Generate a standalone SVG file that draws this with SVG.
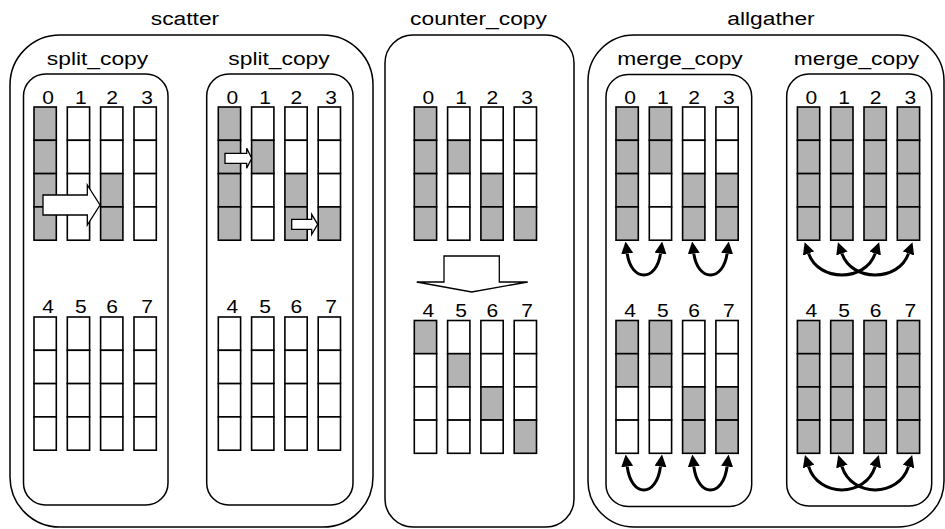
<svg xmlns="http://www.w3.org/2000/svg" xmlns:xlink="http://www.w3.org/1999/xlink" width="945" height="529" viewBox="0 0 945 529">
<style>
.box{fill:none;stroke:#000;stroke-width:1.5}
.g{fill:#b3b3b3;stroke:#000;stroke-width:1.6}
.w{fill:#fff;stroke:#000;stroke-width:1.6}
.t{font-family:"Liberation Sans",Arial,sans-serif;font-size:19px;text-anchor:middle;fill:#000}
.d{font-family:"Liberation Sans",Arial,sans-serif;font-size:17.5px;text-anchor:middle;fill:#000}
.ba{fill:#fff;stroke:#000;stroke-width:1.3;stroke-linejoin:miter}
.ca{fill:none;stroke:#000;stroke-width:3;marker-start:url(#ah);marker-end:url(#ah)}
</style>
<defs>
<marker id="ah" viewBox="0 0 12 12" refX="0" refY="6" markerWidth="12" markerHeight="12" markerUnits="userSpaceOnUse" orient="auto-start-reverse">
<path d="M0,0 L12,6 L0,12 z" fill="#000"/>
</marker>
</defs>
<rect width="945" height="529" fill="#fff"/>

<!-- scatter -->
<g id="scatter">
<rect class="box" x="10" y="35" width="363" height="492" rx="50" ry="50"/>
<text class="t" transform="translate(185 25) scale(1.2 1)">scatter</text>
</g>
<g id="split_copy_1">
<rect class="box" x="23.5" y="74" width="144.5" height="431" rx="22" ry="22"/>
<text class="t" transform="translate(97.5 65) scale(1.2 1)">split_copy</text>
<text class="d" transform="translate(48 103.5) scale(1.2 1)">0</text>
<text class="d" transform="translate(80.8 103.5) scale(1.2 1)">1</text>
<text class="d" transform="translate(112.1 103.5) scale(1.2 1)">2</text>
<text class="d" transform="translate(147 103.5) scale(1.2 1)">3</text>
<g transform="translate(34 107)"><rect class="g" y="0" width="22.3" height="33.3"/><rect class="g" y="33.3" width="22.3" height="33.3"/><rect class="g" y="66.6" width="22.3" height="33.3"/><rect class="g" y="99.9" width="22.3" height="33.3"/></g>
<g transform="translate(67.3 107)"><rect class="w" y="0" width="22.3" height="33.3"/><rect class="w" y="33.3" width="22.3" height="33.3"/><rect class="w" y="66.6" width="22.3" height="33.3"/><rect class="w" y="99.9" width="22.3" height="33.3"/></g>
<g transform="translate(100.6 107)"><rect class="w" y="0" width="22.3" height="33.3"/><rect class="w" y="33.3" width="22.3" height="33.3"/><rect class="g" y="66.6" width="22.3" height="33.3"/><rect class="g" y="99.9" width="22.3" height="33.3"/></g>
<g transform="translate(134 107)"><rect class="w" y="0" width="22.3" height="33.3"/><rect class="w" y="33.3" width="22.3" height="33.3"/><rect class="w" y="66.6" width="22.3" height="33.3"/><rect class="w" y="99.9" width="22.3" height="33.3"/></g>
<text class="d" transform="translate(48 313) scale(1.2 1)">4</text>
<text class="d" transform="translate(80.8 313) scale(1.2 1)">5</text>
<text class="d" transform="translate(112.1 313) scale(1.2 1)">6</text>
<text class="d" transform="translate(147 313) scale(1.2 1)">7</text>
<g transform="translate(34 317)"><rect class="w" y="0" width="22.3" height="33.3"/><rect class="w" y="33.3" width="22.3" height="33.3"/><rect class="w" y="66.6" width="22.3" height="33.3"/><rect class="w" y="99.9" width="22.3" height="33.3"/></g>
<g transform="translate(67.3 317)"><rect class="w" y="0" width="22.3" height="33.3"/><rect class="w" y="33.3" width="22.3" height="33.3"/><rect class="w" y="66.6" width="22.3" height="33.3"/><rect class="w" y="99.9" width="22.3" height="33.3"/></g>
<g transform="translate(100.6 317)"><rect class="w" y="0" width="22.3" height="33.3"/><rect class="w" y="33.3" width="22.3" height="33.3"/><rect class="w" y="66.6" width="22.3" height="33.3"/><rect class="w" y="99.9" width="22.3" height="33.3"/></g>
<g transform="translate(134 317)"><rect class="w" y="0" width="22.3" height="33.3"/><rect class="w" y="33.3" width="22.3" height="33.3"/><rect class="w" y="66.6" width="22.3" height="33.3"/><rect class="w" y="99.9" width="22.3" height="33.3"/></g>
</g>
<g id="split_copy_2">
<rect class="box" x="206.7" y="74" width="146.3" height="431" rx="22" ry="22"/>
<text class="t" transform="translate(279 65) scale(1.2 1)">split_copy</text>
<text class="d" transform="translate(232.3 103.5) scale(1.2 1)">0</text>
<text class="d" transform="translate(265.1 103.5) scale(1.2 1)">1</text>
<text class="d" transform="translate(296.4 103.5) scale(1.2 1)">2</text>
<text class="d" transform="translate(331.2 103.5) scale(1.2 1)">3</text>
<g transform="translate(218.3 107)"><rect class="g" y="0" width="22.3" height="33.3"/><rect class="g" y="33.3" width="22.3" height="33.3"/><rect class="g" y="66.6" width="22.3" height="33.3"/><rect class="g" y="99.9" width="22.3" height="33.3"/></g>
<g transform="translate(251.6 107)"><rect class="w" y="0" width="22.3" height="33.3"/><rect class="g" y="33.3" width="22.3" height="33.3"/><rect class="w" y="66.6" width="22.3" height="33.3"/><rect class="w" y="99.9" width="22.3" height="33.3"/></g>
<g transform="translate(284.9 107)"><rect class="w" y="0" width="22.3" height="33.3"/><rect class="w" y="33.3" width="22.3" height="33.3"/><rect class="g" y="66.6" width="22.3" height="33.3"/><rect class="g" y="99.9" width="22.3" height="33.3"/></g>
<g transform="translate(318.2 107)"><rect class="w" y="0" width="22.3" height="33.3"/><rect class="w" y="33.3" width="22.3" height="33.3"/><rect class="w" y="66.6" width="22.3" height="33.3"/><rect class="g" y="99.9" width="22.3" height="33.3"/></g>
<text class="d" transform="translate(232.3 313) scale(1.2 1)">4</text>
<text class="d" transform="translate(265.1 313) scale(1.2 1)">5</text>
<text class="d" transform="translate(296.4 313) scale(1.2 1)">6</text>
<text class="d" transform="translate(331.2 313) scale(1.2 1)">7</text>
<g transform="translate(218.3 317)"><rect class="w" y="0" width="22.3" height="33.3"/><rect class="w" y="33.3" width="22.3" height="33.3"/><rect class="w" y="66.6" width="22.3" height="33.3"/><rect class="w" y="99.9" width="22.3" height="33.3"/></g>
<g transform="translate(251.6 317)"><rect class="w" y="0" width="22.3" height="33.3"/><rect class="w" y="33.3" width="22.3" height="33.3"/><rect class="w" y="66.6" width="22.3" height="33.3"/><rect class="w" y="99.9" width="22.3" height="33.3"/></g>
<g transform="translate(284.9 317)"><rect class="w" y="0" width="22.3" height="33.3"/><rect class="w" y="33.3" width="22.3" height="33.3"/><rect class="w" y="66.6" width="22.3" height="33.3"/><rect class="w" y="99.9" width="22.3" height="33.3"/></g>
<g transform="translate(318.2 317)"><rect class="w" y="0" width="22.3" height="33.3"/><rect class="w" y="33.3" width="22.3" height="33.3"/><rect class="w" y="66.6" width="22.3" height="33.3"/><rect class="w" y="99.9" width="22.3" height="33.3"/></g>
</g>

<!-- counter_copy -->
<g id="counter_copy">
<rect class="box" x="385" y="35" width="189" height="492" rx="28" ry="28"/>
<text class="t" transform="translate(478.5 25) scale(1.2 1)">counter_copy</text>
<text class="d" transform="translate(428.3 103.5) scale(1.2 1)">0</text>
<text class="d" transform="translate(461.1 103.5) scale(1.2 1)">1</text>
<text class="d" transform="translate(492.4 103.5) scale(1.2 1)">2</text>
<text class="d" transform="translate(527.2 103.5) scale(1.2 1)">3</text>
<g transform="translate(414.3 107)"><rect class="g" y="0" width="22.3" height="33.3"/><rect class="g" y="33.3" width="22.3" height="33.3"/><rect class="g" y="66.6" width="22.3" height="33.3"/><rect class="g" y="99.9" width="22.3" height="33.3"/></g>
<g transform="translate(447.6 107)"><rect class="w" y="0" width="22.3" height="33.3"/><rect class="g" y="33.3" width="22.3" height="33.3"/><rect class="w" y="66.6" width="22.3" height="33.3"/><rect class="w" y="99.9" width="22.3" height="33.3"/></g>
<g transform="translate(480.9 107)"><rect class="w" y="0" width="22.3" height="33.3"/><rect class="w" y="33.3" width="22.3" height="33.3"/><rect class="g" y="66.6" width="22.3" height="33.3"/><rect class="g" y="99.9" width="22.3" height="33.3"/></g>
<g transform="translate(514.2 107)"><rect class="w" y="0" width="22.3" height="33.3"/><rect class="w" y="33.3" width="22.3" height="33.3"/><rect class="w" y="66.6" width="22.3" height="33.3"/><rect class="g" y="99.9" width="22.3" height="33.3"/></g>
<text class="d" transform="translate(428.3 316.7) scale(1.2 1)">4</text>
<text class="d" transform="translate(461.1 316.7) scale(1.2 1)">5</text>
<text class="d" transform="translate(492.4 316.7) scale(1.2 1)">6</text>
<text class="d" transform="translate(527.2 316.7) scale(1.2 1)">7</text>
<g transform="translate(414.3 320.5)"><rect class="g" y="0" width="22.3" height="33.2"/><rect class="w" y="33.2" width="22.3" height="33.2"/><rect class="w" y="66.4" width="22.3" height="33.2"/><rect class="w" y="99.6" width="22.3" height="33.2"/></g>
<g transform="translate(447.6 320.5)"><rect class="w" y="0" width="22.3" height="33.2"/><rect class="g" y="33.2" width="22.3" height="33.2"/><rect class="w" y="66.4" width="22.3" height="33.2"/><rect class="w" y="99.6" width="22.3" height="33.2"/></g>
<g transform="translate(480.9 320.5)"><rect class="w" y="0" width="22.3" height="33.2"/><rect class="w" y="33.2" width="22.3" height="33.2"/><rect class="g" y="66.4" width="22.3" height="33.2"/><rect class="w" y="99.6" width="22.3" height="33.2"/></g>
<g transform="translate(514.2 320.5)"><rect class="w" y="0" width="22.3" height="33.2"/><rect class="w" y="33.2" width="22.3" height="33.2"/><rect class="w" y="66.4" width="22.3" height="33.2"/><rect class="g" y="99.6" width="22.3" height="33.2"/></g>
</g>

<!-- allgather -->
<g id="allgather">
<rect class="box" x="588" y="35" width="356" height="492" rx="46" ry="46"/>
<text class="t" transform="translate(771 25) scale(1.2 1)">allgather</text>
</g>
<g id="merge_copy_1">
<rect class="box" x="606" y="74.5" width="145.7" height="432" rx="22" ry="22"/>
<text class="t" transform="translate(680 65) scale(1.2 1)">merge_copy</text>
<text class="d" transform="translate(630 103.5) scale(1.2 1)">0</text>
<text class="d" transform="translate(662.8 103.5) scale(1.2 1)">1</text>
<text class="d" transform="translate(694.1 103.5) scale(1.2 1)">2</text>
<text class="d" transform="translate(728.9 103.5) scale(1.2 1)">3</text>
<g transform="translate(616 107)"><rect class="g" y="0" width="22.3" height="33.3"/><rect class="g" y="33.3" width="22.3" height="33.3"/><rect class="g" y="66.6" width="22.3" height="33.3"/><rect class="g" y="99.9" width="22.3" height="33.3"/></g>
<g transform="translate(649.3 107)"><rect class="g" y="0" width="22.3" height="33.3"/><rect class="g" y="33.3" width="22.3" height="33.3"/><rect class="w" y="66.6" width="22.3" height="33.3"/><rect class="w" y="99.9" width="22.3" height="33.3"/></g>
<g transform="translate(682.6 107)"><rect class="w" y="0" width="22.3" height="33.3"/><rect class="w" y="33.3" width="22.3" height="33.3"/><rect class="g" y="66.6" width="22.3" height="33.3"/><rect class="g" y="99.9" width="22.3" height="33.3"/></g>
<g transform="translate(715.9 107)"><rect class="w" y="0" width="22.3" height="33.3"/><rect class="w" y="33.3" width="22.3" height="33.3"/><rect class="g" y="66.6" width="22.3" height="33.3"/><rect class="g" y="99.9" width="22.3" height="33.3"/></g>
<text class="d" transform="translate(630 316.7) scale(1.2 1)">4</text>
<text class="d" transform="translate(662.8 316.7) scale(1.2 1)">5</text>
<text class="d" transform="translate(694.1 316.7) scale(1.2 1)">6</text>
<text class="d" transform="translate(728.9 316.7) scale(1.2 1)">7</text>
<g transform="translate(616 320.5)"><rect class="g" y="0" width="22.3" height="33.2"/><rect class="g" y="33.2" width="22.3" height="33.2"/><rect class="w" y="66.4" width="22.3" height="33.2"/><rect class="w" y="99.6" width="22.3" height="33.2"/></g>
<g transform="translate(649.3 320.5)"><rect class="g" y="0" width="22.3" height="33.2"/><rect class="g" y="33.2" width="22.3" height="33.2"/><rect class="w" y="66.4" width="22.3" height="33.2"/><rect class="w" y="99.6" width="22.3" height="33.2"/></g>
<g transform="translate(682.6 320.5)"><rect class="w" y="0" width="22.3" height="33.2"/><rect class="w" y="33.2" width="22.3" height="33.2"/><rect class="g" y="66.4" width="22.3" height="33.2"/><rect class="g" y="99.6" width="22.3" height="33.2"/></g>
<g transform="translate(715.9 320.5)"><rect class="w" y="0" width="22.3" height="33.2"/><rect class="w" y="33.2" width="22.3" height="33.2"/><rect class="g" y="66.4" width="22.3" height="33.2"/><rect class="g" y="99.6" width="22.3" height="33.2"/></g>
</g>
<g id="merge_copy_2">
<rect class="box" x="786.7" y="74" width="145" height="432" rx="22" ry="22"/>
<text class="t" transform="translate(856.5 65) scale(1.2 1)">merge_copy</text>
<text class="d" transform="translate(811.4 103.5) scale(1.2 1)">0</text>
<text class="d" transform="translate(844.2 103.5) scale(1.2 1)">1</text>
<text class="d" transform="translate(875.5 103.5) scale(1.2 1)">2</text>
<text class="d" transform="translate(910.3 103.5) scale(1.2 1)">3</text>
<g transform="translate(797.4 107)"><rect class="g" y="0" width="22.3" height="33.3"/><rect class="g" y="33.3" width="22.3" height="33.3"/><rect class="g" y="66.6" width="22.3" height="33.3"/><rect class="g" y="99.9" width="22.3" height="33.3"/></g>
<g transform="translate(830.7 107)"><rect class="g" y="0" width="22.3" height="33.3"/><rect class="g" y="33.3" width="22.3" height="33.3"/><rect class="g" y="66.6" width="22.3" height="33.3"/><rect class="g" y="99.9" width="22.3" height="33.3"/></g>
<g transform="translate(864 107)"><rect class="g" y="0" width="22.3" height="33.3"/><rect class="g" y="33.3" width="22.3" height="33.3"/><rect class="g" y="66.6" width="22.3" height="33.3"/><rect class="g" y="99.9" width="22.3" height="33.3"/></g>
<g transform="translate(897.3 107)"><rect class="g" y="0" width="22.3" height="33.3"/><rect class="g" y="33.3" width="22.3" height="33.3"/><rect class="g" y="66.6" width="22.3" height="33.3"/><rect class="g" y="99.9" width="22.3" height="33.3"/></g>
<text class="d" transform="translate(811.4 316.7) scale(1.2 1)">4</text>
<text class="d" transform="translate(844.2 316.7) scale(1.2 1)">5</text>
<text class="d" transform="translate(875.5 316.7) scale(1.2 1)">6</text>
<text class="d" transform="translate(910.3 316.7) scale(1.2 1)">7</text>
<g transform="translate(797.4 320.5)"><rect class="g" y="0" width="22.3" height="33.2"/><rect class="g" y="33.2" width="22.3" height="33.2"/><rect class="g" y="66.4" width="22.3" height="33.2"/><rect class="g" y="99.6" width="22.3" height="33.2"/></g>
<g transform="translate(830.7 320.5)"><rect class="g" y="0" width="22.3" height="33.2"/><rect class="g" y="33.2" width="22.3" height="33.2"/><rect class="g" y="66.4" width="22.3" height="33.2"/><rect class="g" y="99.6" width="22.3" height="33.2"/></g>
<g transform="translate(864 320.5)"><rect class="g" y="0" width="22.3" height="33.2"/><rect class="g" y="33.2" width="22.3" height="33.2"/><rect class="g" y="66.4" width="22.3" height="33.2"/><rect class="g" y="99.6" width="22.3" height="33.2"/></g>
<g transform="translate(897.3 320.5)"><rect class="g" y="0" width="22.3" height="33.2"/><rect class="g" y="33.2" width="22.3" height="33.2"/><rect class="g" y="66.4" width="22.3" height="33.2"/><rect class="g" y="99.6" width="22.3" height="33.2"/></g>
</g>

<!-- connectors -->
<g id="connectors">
<polygon class="ba" points="43,195 87.3,195 87.3,185 100,205 87.3,225 87.3,215 43,215"/>
<polygon class="ba" points="225,153.3 246.7,153.3 246.7,148.3 251.7,158.3 246.7,168.3 246.7,163.3 225,163.3"/>
<polygon class="ba" points="291.7,219.3 311.7,219.3 311.7,214.3 317.7,224.3 311.7,234.3 311.7,229.3 291.7,229.3"/>
<polygon class="ba" points="444,256 499.3,256 499.3,282 527.7,282 471.7,292 416.7,282 444,282"/>
<path class="ca" d="M627.2,253.5 C631.2,282.2 656.5,282.2 660.5,253.5"/>
<path class="ca" d="M693.8,253.5 C697.8,282.2 723.1,282.2 727.1,253.5"/>
<path class="ca" d="M627.2,466.5 C631.2,497.8 656.5,497.8 660.5,466.5"/>
<path class="ca" d="M693.8,466.5 C697.8,497.8 723.1,497.8 727.1,466.5"/>
<path class="ca" d="M808.6,253.5 C818.6,282.2 865.2,282.2 875.2,253.5"/>
<path class="ca" d="M841.9,253.5 C851.9,282.2 898.5,282.2 908.5,253.5"/>
<path class="ca" d="M808.6,466.5 C818.6,497.8 865.2,497.8 875.2,466.5"/>
<path class="ca" d="M841.9,466.5 C851.9,497.8 898.5,497.8 908.5,466.5"/>
</g>
</svg>
